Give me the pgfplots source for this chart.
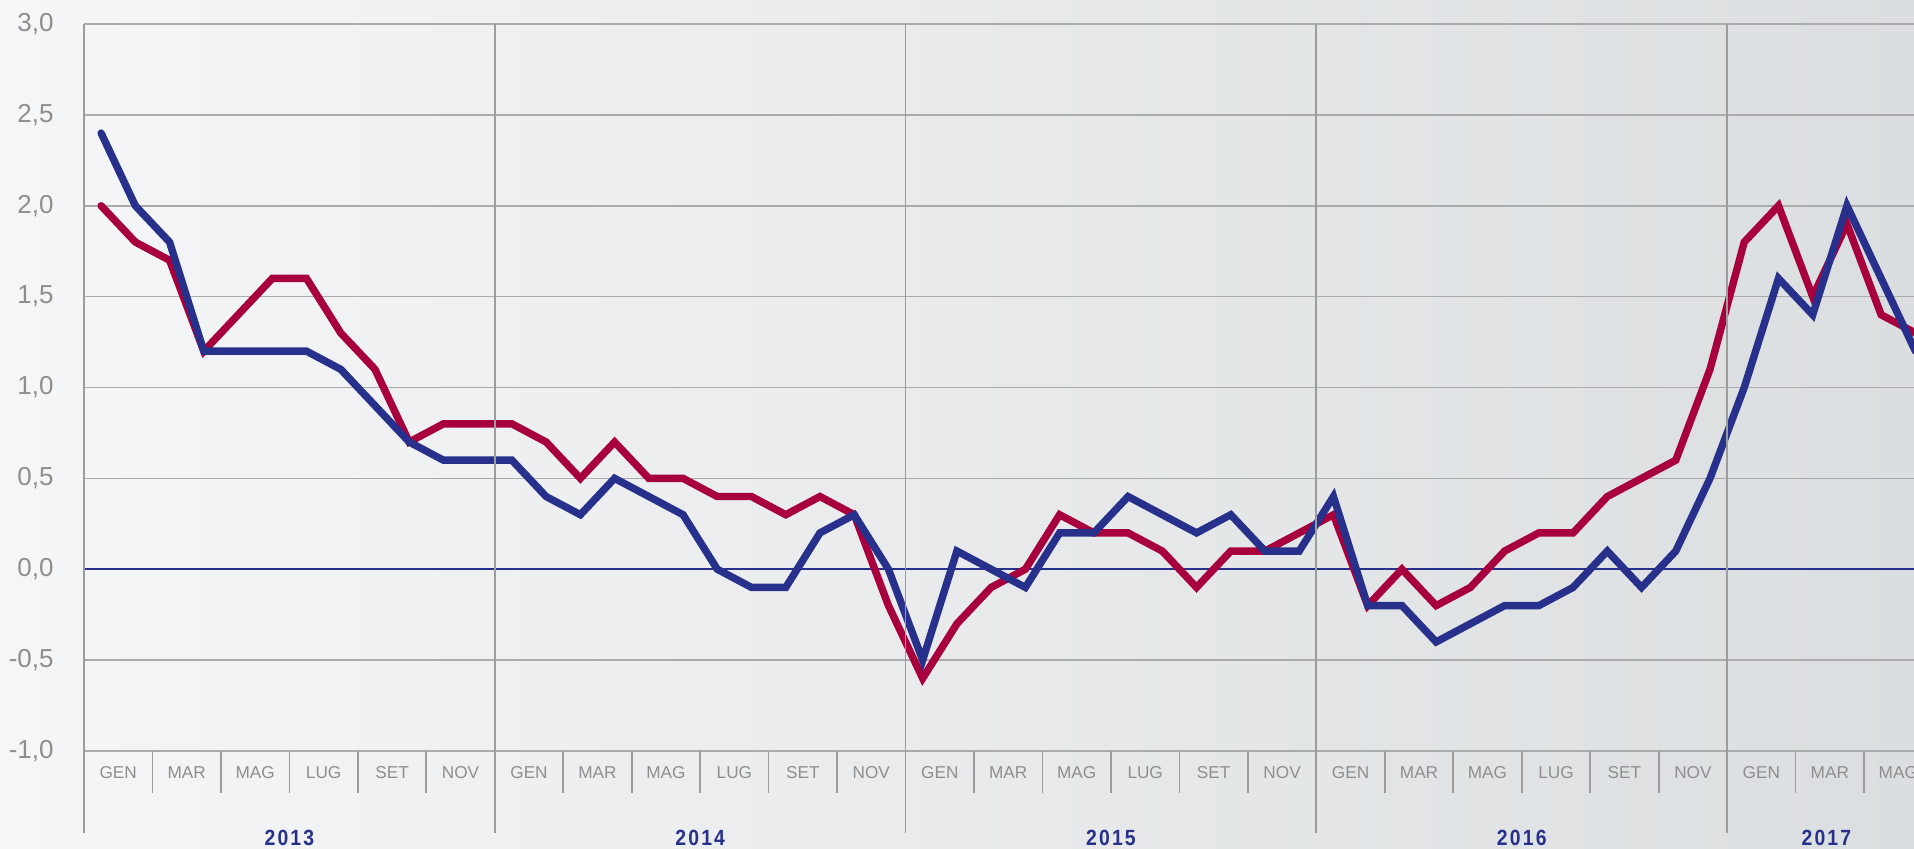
\documentclass[border=0pt]{standalone}
\usepackage{fontspec}
\setmainfont{Liberation Sans}
\newfontfamily\yearfont[LetterSpace=10,FakeStretch=0.88]{Liberation Sans}
\usepackage{pgfplots}
\pgfplotsset{compat=1.18}

\definecolor{rosso}{HTML}{A8003D}
\definecolor{blu}{HTML}{27318B}
\definecolor{griglia}{HTML}{ABABAB}
\definecolor{separa}{HTML}{9C9C9C}
\definecolor{etich}{HTML}{8E8E8E}
\definecolor{bgL}{HTML}{F5F6F7}
\definecolor{bgR}{HTML}{DBDEE0}

\begin{document}
\begin{tikzpicture}
\useasboundingbox (0,0) rectangle (957pt,424.5pt);
\shade[left color=bgL, right color=bgR] (0,0) rectangle (957pt,424.5pt);
\begin{axis}[
  at={(42pt,49pt)}, anchor=south west,
  scale only axis, width=915pt, height=363.5pt,
  xmin=-0.5, xmax=52.96, ymin=-1, ymax=3,
  axis line style={draw=none},
  major tick length=0pt,
  ytick={-1,-0.5,0,0.5,1,1.5,2,2.5,3},
  ymajorgrids, grid style={griglia, line width=0.85pt},
  xtick={0.5,2.5,...,52.5},
  xticklabels={GEN,MAR,MAG,LUG,SET,NOV,GEN,MAR,MAG,LUG,SET,NOV,GEN,MAR,MAG,LUG,SET,NOV,GEN,MAR,MAG,LUG,SET,NOV,GEN,MAR,MAG},
  xticklabel style={font=\fontsize{8.6}{9}\selectfont, text=etich, anchor=center, yshift=-11pt, inner sep=0pt},
  yticklabel style={font=\fontsize{13}{15}\selectfont, text=etich, anchor=east, xshift=-15pt, inner sep=0pt},
  /pgf/number format/.cd, use comma, fixed, fixed zerofill, precision=1, assume math mode=true,
  /pgfplots/.cd,
  clip mode=individual,
]
% linea dello zero
\draw[blu, line width=1pt] (axis cs:-0.5,0) -- (axis cs:52.96,0);

% serie rossa
\addplot[rosso, line width=3.7pt, line cap=round] coordinates {
(0,2.0) (1,1.8) (2,1.7) (3,1.2) (4,1.4) (5,1.6) (6,1.6) (7,1.3) (8,1.1) (9,0.7) (10,0.8) (11,0.8)
(12,0.8) (13,0.7) (14,0.5) (15,0.7) (16,0.5) (17,0.5) (18,0.4) (19,0.4) (20,0.3) (21,0.4) (22,0.3) (23,-0.2)
(24,-0.6) (25,-0.3) (26,-0.1) (27,0.0) (28,0.3) (29,0.2) (30,0.2) (31,0.1) (32,-0.1) (33,0.1) (34,0.1) (35,0.2)
(36,0.3) (37,-0.2) (38,0.0) (39,-0.2) (40,-0.1) (41,0.1) (42,0.2) (43,0.2) (44,0.4) (45,0.5) (46,0.6) (47,1.1)
(48,1.8) (49,2.0) (50,1.5) (51,1.9) (52,1.4) (53,1.3)};

% serie blu
\addplot[blu, line width=3.7pt, line cap=round] coordinates {
(0,2.4) (1,2.0) (2,1.8) (3,1.2) (4,1.2) (5,1.2) (6,1.2) (7,1.1) (8,0.9) (9,0.7) (10,0.6) (11,0.6)
(12,0.6) (13,0.4) (14,0.3) (15,0.5) (16,0.4) (17,0.3) (18,0.0) (19,-0.1) (20,-0.1) (21,0.2) (22,0.3) (23,0.0)
(24,-0.5) (25,0.1) (26,0.0) (27,-0.1) (28,0.2) (29,0.2) (30,0.4) (31,0.3) (32,0.2) (33,0.3) (34,0.1) (35,0.1)
(36,0.4) (37,-0.2) (38,-0.2) (39,-0.4) (40,-0.3) (41,-0.2) (42,-0.2) (43,-0.1) (44,0.1) (45,-0.1) (46,0.1) (47,0.5)
(48,1.0) (49,1.6) (50,1.4) (51,2.0) (52,1.6) (53,1.2)};

% separatori anni
\pgfplotsinvokeforeach{-0.5,11.5,23.5,35.5,47.5}{
  \draw[separa, line width=0.85pt] (axis cs:#1,3) -- ([yshift=-41pt]axis cs:#1,-1);
}
% separatori mesi
\pgfplotsinvokeforeach{1.5,3.5,5.5,7.5,9.5,13.5,15.5,17.5,19.5,21.5,25.5,27.5,29.5,31.5,33.5,37.5,39.5,41.5,43.5,45.5,49.5,51.5}{
  \draw[separa, line width=0.85pt] (axis cs:#1,-1) -- ([yshift=-21pt]axis cs:#1,-1);
}
% anni
\node[text=blu, font=\yearfont\bfseries\fontsize{11}{12}\selectfont, yshift=-43.5pt] at (axis cs:5.5,-1) {2013};
\node[text=blu, font=\yearfont\bfseries\fontsize{11}{12}\selectfont, yshift=-43.5pt] at (axis cs:17.5,-1) {2014};
\node[text=blu, font=\yearfont\bfseries\fontsize{11}{12}\selectfont, yshift=-43.5pt] at (axis cs:29.5,-1) {2015};
\node[text=blu, font=\yearfont\bfseries\fontsize{11}{12}\selectfont, yshift=-43.5pt] at (axis cs:41.5,-1) {2016};
\node[text=blu, font=\yearfont\bfseries\fontsize{11}{12}\selectfont, yshift=-43.5pt] at (axis cs:50.4,-1) {2017};
\end{axis}
\end{tikzpicture}
\end{document}
